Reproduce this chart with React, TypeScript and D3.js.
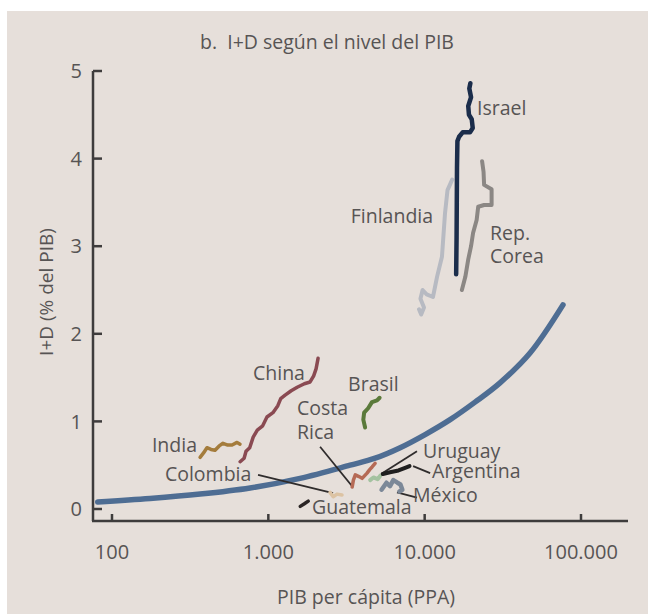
import React from "react";
import * as d3 from "d3";

// ---------- data (GDP per capita PPP, R&D % of GDP) ----------
const xTicks = [100, 1000, 10000, 100000];
const xTickLabels = ["100", "1.000", "10.000", "100.000"];
const yTicks = [0, 1, 2, 3, 4, 5];

const fitCurve: [number, number][] = [
  [81, 0.08], [175, 0.12], [366, 0.17], [764, 0.24], [1596, 0.35], [3334, 0.5],
  [4820, 0.58], [6970, 0.7], [10070, 0.85], [14550, 1.02], [21000, 1.22],
  [30340, 1.44], [47200, 1.78], [76700, 2.33],
];

const israel: [number, number][] = [
  [15900, 2.68], [16000, 3.1], [16050, 3.5], [16100, 3.9], [16200, 4.2], [16600, 4.25],
  [17500, 4.3], [19500, 4.3], [20300, 4.35], [20000, 4.45], [19200, 4.5], [19000, 4.6],
  [19800, 4.7], [19300, 4.8], [19600, 4.86],
];
const finlandia: [number, number][] = [
  [9200, 2.28], [9500, 2.22], [9900, 2.3], [9400, 2.4], [9700, 2.5], [10300, 2.45],
  [11300, 2.42], [12000, 2.65], [12900, 2.88], [13500, 3.38], [14000, 3.64], [15000, 3.76],
];
const corea: [number, number][] = [
  [17300, 2.5], [18200, 2.65], [19000, 2.85], [19800, 3.0], [20400, 3.15], [21500, 3.3],
  [22000, 3.45], [24000, 3.47], [26800, 3.47], [26800, 3.65], [24000, 3.7], [23800, 3.85],
  [23300, 3.97],
];
const china: [number, number][] = [
  [660, 0.54], [700, 0.58], [720, 0.66], [760, 0.7], [800, 0.82], [850, 0.9], [920, 0.95],
  [980, 1.05], [1070, 1.1], [1150, 1.18], [1200, 1.26], [1280, 1.3], [1400, 1.35],
  [1530, 1.39], [1700, 1.43], [1850, 1.45], [1950, 1.52], [2020, 1.6], [2060, 1.68], [2080, 1.72],
];
const india: [number, number][] = [
  [366, 0.59], [385, 0.64], [405, 0.7], [430, 0.68], [456, 0.67], [485, 0.72], [513, 0.75],
  [550, 0.73], [586, 0.73], [631, 0.76], [659, 0.74],
];
const brasil: [number, number][] = [
  [4160, 0.93], [4050, 1.02], [4100, 1.1], [4350, 1.15], [4600, 1.22], [4960, 1.24], [5150, 1.27],
];
const costaRica: [number, number][] = [
  [3436, 0.25], [3500, 0.33], [3600, 0.39], [3800, 0.37], [3980, 0.35], [4280, 0.41],
  [4450, 0.45], [4610, 0.48], [4820, 0.52],
];
const colombia: [number, number][] = [[2480, 0.19], [2600, 0.14], [2750, 0.17], [2960, 0.16]];
const guatemala: [number, number][] = [[1600, 0.03], [1700, 0.06], [1800, 0.09]];
const uruguay: [number, number][] = [[4480, 0.33], [4700, 0.36], [5000, 0.34], [5200, 0.38]];
const argentina: [number, number][] = [[5400, 0.4], [6000, 0.42], [6800, 0.44], [7500, 0.47], [8000, 0.49]];
const mexico: [number, number][] = [
  [5300, 0.22], [5700, 0.3], [6000, 0.26], [6300, 0.33], [6700, 0.3], [7000, 0.28], [7200, 0.22], [6900, 0.2],
];

const series = [
  { name: "Finlandia", data: finlandia, color: "#b7bac2", width: 4 },
  { name: "Rep. Corea", data: corea, color: "#8b8784", width: 4 },
  { name: "Israel", data: israel, color: "#1b2d4b", width: 4.5 },
  { name: "China", data: china, color: "#8a4a52", width: 3.5 },
  { name: "India", data: india, color: "#a47c3c", width: 3.5 },
  { name: "Brasil", data: brasil, color: "#5b7a3b", width: 4 },
  { name: "Costa Rica", data: costaRica, color: "#b56a55", width: 3.5 },
  { name: "Colombia", data: colombia, color: "#dcc3a3", width: 3.5 },
  { name: "Guatemala", data: guatemala, color: "#2b2525", width: 3.5 },
  { name: "Uruguay", data: uruguay, color: "#a4c2a0", width: 4 },
  { name: "Argentina", data: argentina, color: "#1f1f1f", width: 4 },
  { name: "México", data: mexico, color: "#7c8898", width: 4.5 },
];

// labels anchored in data units
const labels: { text: string; x: number; y: number; anchor?: string }[] = [
  { text: "Israel", x: 21630, y: 4.5 },
  { text: "Finlandia", x: 11320, y: 3.26, anchor: "end" },
  { text: "Rep.", x: 26200, y: 3.07 },
  { text: "Corea", x: 26200, y: 2.81 },
  { text: "China", x: 798, y: 1.47 },
  { text: "India", x: 180, y: 0.65 },
  { text: "Colombia", x: 218, y: 0.32 },
  { text: "Costa", x: 1527, y: 1.07 },
  { text: "Rica", x: 1527, y: 0.8 },
  { text: "Brasil", x: 3236, y: 1.35 },
  { text: "Uruguay", x: 9770, y: 0.58 },
  { text: "Argentina", x: 11150, y: 0.35 },
  { text: "México", x: 8430, y: 0.08 },
  { text: "Guatemala", x: 1905, y: -0.06 },
];

const leaders: [number, number, number, number][] = [
  [2143, 0.71, 3436, 0.26],
  [859, 0.39, 2594, 0.18],
  [8930, 0.66, 5260, 0.4],
  [8430, 0.49, 10840, 0.41],
  [6650, 0.19, 8930, 0.13],
];

const FONT = "'Open Sans', 'DejaVu Sans', sans-serif";
const TEXT = "#575454";

export default function App() {
  const W = 648, H = 614;
  const x = d3.scaleLog().domain([100, 100000]).range([112, 581]);
  const y = d3.scaleLinear().domain([0, 5]).range([509, 71]);
  const axisLeft = 93, axisBottom = 521, axisRight = 628;

  const line = d3.line<[number, number]>().x((d) => x(d[0])).y((d) => y(d[1]));
  const smooth = d3
    .line<[number, number]>()
    .x((d) => x(d[0]))
    .y((d) => y(d[1]))
    .curve(d3.curveCatmullRom.alpha(0.5));

  return (
    <svg width={W} height={H} style={{ position: "absolute", left: 0, top: 0, display: "block" }}>
      <rect x={0} y={0} width={W} height={H} fill="#ffffff" />
      <rect x={7} y={11} width={W - 7} height={H - 11} fill="#e6dfda" />

      <text x={327} y={49} textAnchor="middle" fontFamily={FONT} fontSize={19.5} fill={TEXT} style={{ whiteSpace: "pre" }}>
        {"b.  I+D según el nivel del PIB"}
      </text>

      {/* axes */}
      <line x1={axisLeft} y1={y(5)} x2={axisLeft} y2={axisBottom} stroke="#3e3c3c" strokeWidth={2.5} />
      <line x1={axisLeft - 1} y1={axisBottom} x2={axisRight} y2={axisBottom} stroke="#3e3c3c" strokeWidth={2.5} />
      {yTicks.map((t) => (
        <g key={"yt" + t}>
          <line x1={axisLeft} x2={axisLeft + 9} y1={y(t)} y2={y(t)} stroke="#3e3c3c" strokeWidth={2.5} />
          <text x={82} y={y(t)} dy="0.36em" textAnchor="end" fontFamily={FONT} fontSize={20} fill={TEXT}>
            {t}
          </text>
        </g>
      ))}
      {xTicks.map((t, i) => (
        <g key={"xt" + t}>
          <line x1={x(t)} x2={x(t)} y1={axisBottom} y2={axisBottom - 7} stroke="#3e3c3c" strokeWidth={2.5} />
          <text x={x(t)} y={559} textAnchor="middle" fontFamily={FONT} fontSize={20} fill={TEXT}>
            {xTickLabels[i]}
          </text>
        </g>
      ))}
      <text x={366} y={604} textAnchor="middle" fontFamily={FONT} fontSize={19.5} fill={TEXT}>
        PIB per cápita (PPA)
      </text>
      <text
        transform="translate(53,292) rotate(-90)"
        textAnchor="middle"
        fontFamily={FONT}
        fontSize={19}
        fill={TEXT}
      >
        I+D (% del PIB)
      </text>

      {/* fitted curve */}
      <path d={smooth(fitCurve) || ""} fill="none" stroke="#4e6d93" strokeWidth={5.5} strokeLinecap="round" />

      {/* leader lines */}
      {leaders.map((l, i) => (
        <line key={"ld" + i} x1={x(l[0])} y1={y(l[1])} x2={x(l[2])} y2={y(l[3])} stroke="#2f2c2c" strokeWidth={1.8} />
      ))}

      {/* country series */}
      {series.map((s) => (
        <path
          key={s.name}
          d={line(s.data) || ""}
          fill="none"
          stroke={s.color}
          strokeWidth={s.width}
          strokeLinejoin="round"
          strokeLinecap="round"
        />
      ))}

      {labels.map((l) => (
        <text
          key={l.text}
          x={x(l.x)}
          y={y(l.y)}
          textAnchor={l.anchor || "start"}
          fontFamily={FONT}
          fontSize={19.5}
          fill={TEXT}
        >
          {l.text}
        </text>
      ))}
    </svg>
  );
}
